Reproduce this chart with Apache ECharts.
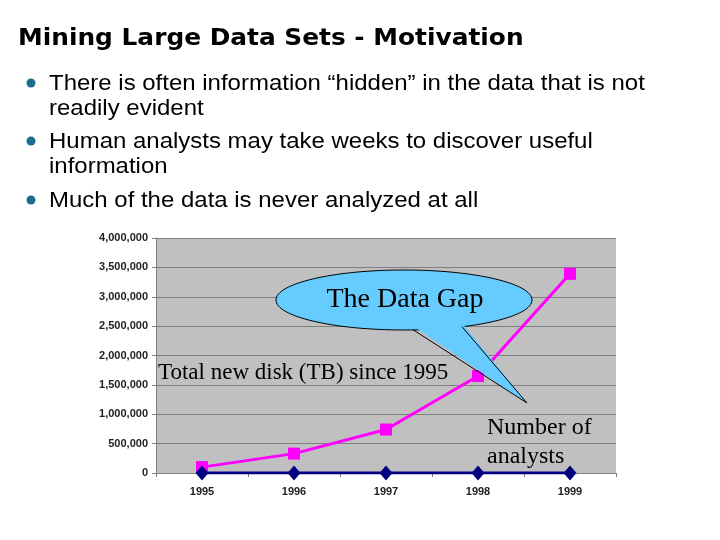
<!DOCTYPE html>
<html><head><meta charset="utf-8">
<script src="https://cdn.jsdelivr.net/npm/echarts@6/dist/echarts.min.js"></script>
<style>html,body{margin:0;padding:0;background:#fff}#c{width:720px;height:540px}</style>
</head><body><div id="c"></div>
<script>
const years = ['1995','1996','1997','1998','1999'];
const diskTB = [100000, 330000, 740000, 1650000, 3390000];
const analysts = [0, 0, 0, 0, 0];
const yTicks = [0, 500000, 1000000, 1500000, 2000000, 2500000, 3000000, 3500000, 4000000];
const titleText = 'Mining Large Data Sets - Motivation';
const bullets = [
  ['There is often information \u201chidden\u201d in the data that is not', 'readily evident'],
  ['Human analysts may take weeks to discover useful', 'information'],
  ['Much of the data is never analyzed at all']
];
const calloutText = 'The Data Gap';
const diskLabel = 'Total new disk (TB) since 1995';
const analystLabel = ['Number of', 'analysts'];

const chart = echarts.init(document.getElementById('c'), null, {renderer: 'canvas'});
const sans = 'Liberation Sans, Arial, sans-serif';
const serif = 'Liberation Serif, Times New Roman, serif';

const graphics = [];
graphics.push({type:'text', x:18, y:39, scaleX:1.08, style:{text:titleText, font:'bold 23px DejaVu Sans, sans-serif', fill:'#000', verticalAlign:'middle'}});
const bulletY = [83, 141, 200];
bullets.forEach((b, i) => {
  graphics.push({type:'circle', shape:{cx:31, cy:bulletY[i], r:4.5}, style:{fill:'#1d6e8e'}});
  b.forEach((line, j) => {
    graphics.push({type:'text', x:49, y:bulletY[i] + 1 + j*25, scaleX:1.09, style:{text:line, font:'22px ' + sans, fill:'#000', verticalAlign:'middle'}});
  });
});
// callout
graphics.push({type:'ellipse', shape:{cx:404, cy:300, rx:128, ry:30}, style:{fill:'#66ccff', stroke:'#000', lineWidth:1}, z:10});
graphics.push({type:'polygon', shape:{points:[[413,326],[462,323],[527,403]]}, style:{fill:'#66ccff'}, z:11});
graphics.push({type:'polyline', shape:{points:[[413,329.7],[527,403],[462,326.7]]}, style:{stroke:'#000', lineWidth:1, fill:null}, z:11});
graphics.push({type:'text', x:405, y:300, style:{text:calloutText, font:'28px ' + serif, fill:'#000', align:'center', verticalAlign:'middle'}, z:12});
graphics.push({type:'text', x:158, y:373, style:{text:diskLabel, font:'23px ' + serif, fill:'#000', verticalAlign:'middle'}, z:12});
graphics.push({type:'text', x:487, y:428, style:{text:analystLabel[0], font:'24px ' + serif, fill:'#000', verticalAlign:'middle'}, z:12});
graphics.push({type:'text', x:487, y:457, style:{text:analystLabel[1], font:'24px ' + serif, fill:'#000', verticalAlign:'middle'}, z:12});

chart.setOption({
  animation: false,
  grid: {left:156, top:238, width:460, height:235, show:true, backgroundColor:'#c0c0c0', borderWidth:0, containLabel:false},
  xAxis: {
    type:'category', data: years, boundaryGap:true,
    axisLine:{lineStyle:{color:'#808080', width:1}},
    axisTick:{show:true, length:4, lineStyle:{color:'#808080'}},
    axisLabel:{color:'#222', fontFamily: sans, fontWeight:'bold', fontSize:11, margin:13}
  },
  yAxis: {
    type:'value', min:0, max:4000000, interval:500000,
    axisLine:{show:true, lineStyle:{color:'#808080'}},
    axisTick:{show:true, length:4, lineStyle:{color:'#808080'}},
    splitLine:{show:true, lineStyle:{color:'#7f7f7f', width:1}},
    axisLabel:{color:'#222', fontFamily: sans, fontWeight:'bold', fontSize:11, margin:8,
      formatter: v => yTicks.includes(v) ? v.toLocaleString('en-US') : ''}
  },
  series: [
    {type:'line', data: diskTB, symbol:'rect', symbolSize:12, lineStyle:{color:'#ff00ff', width:3}, itemStyle:{color:'#ff00ff'}, z:3},
    {type:'line', data: analysts, symbol:'diamond', symbolSize:[13,15], lineStyle:{color:'#000080', width:3}, itemStyle:{color:'#000080'}, z:4}
  ],
  graphic: graphics
});
</script></body></html>
